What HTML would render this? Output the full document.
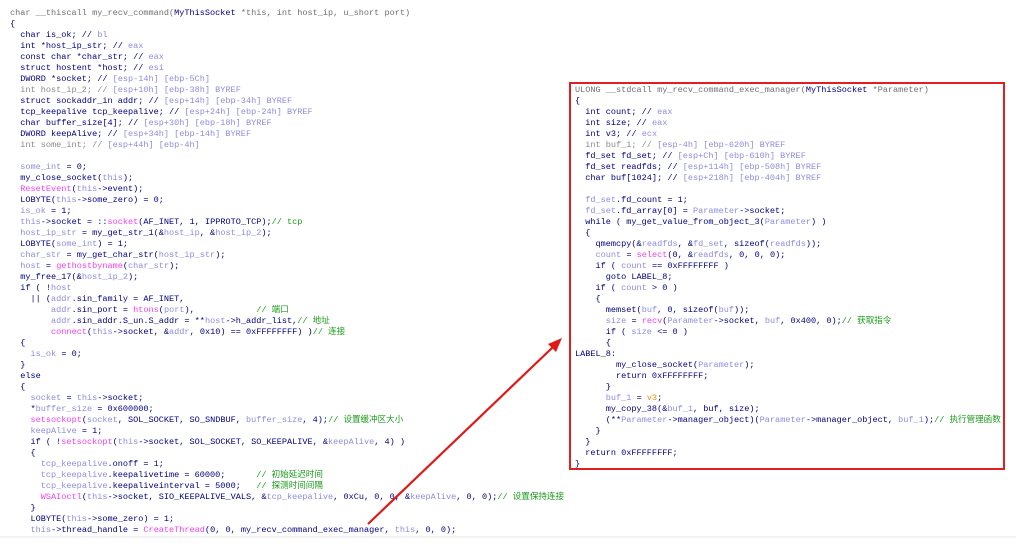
<!DOCTYPE html>
<html><head><meta charset="utf-8"><style>
html,body{margin:0;padding:0;background:#fff;width:1016px;height:545px;overflow:hidden;position:relative}
pre{position:absolute;margin:0;font-family:"Liberation Mono","Noto Sans CJK SC",monospace;font-size:8.55px;line-height:11px;color:#000080;white-space:pre}
.g{color:#8a8a8a}.v{color:#8c8ce0}.p{color:#f040f0}.c{color:#1a9a1a}.o{color:#e89000}.h{color:#707070}
#box{position:absolute;left:569px;top:82px;width:436px;height:388px;border:2px solid #e02020;box-sizing:border-box}
#shadow{position:absolute;left:0;top:536px;width:1016px;height:3px;background:linear-gradient(#eee,#fff)}
</style></head><body>
<div id="shadow"></div>
<pre style="left:10px;top:8px"><span class="h">char __thiscall my_recv_command(</span>MyThisSocket <span class="h">*this, int host_ip, u_short port)</span>
{
  char is_ok; // <span class="v">bl</span>
  int *host_ip_str; // <span class="v">eax</span>
  const char *char_str; // <span class="v">eax</span>
  struct hostent *host; // <span class="v">esi</span>
  DWORD *socket; // <span class="v">[esp-14h] [ebp-5Ch]</span>
<span class="g">  int host_ip_2; // </span><span class="v">[esp+10h] [ebp-38h] BYREF</span>
  struct sockaddr_in addr; // <span class="v">[esp+14h] [ebp-34h] BYREF</span>
  tcp_keepalive tcp_keepalive; // <span class="v">[esp+24h] [ebp-24h] BYREF</span>
  char buffer_size[4]; // <span class="v">[esp+30h] [ebp-18h] BYREF</span>
  DWORD keepAlive; // <span class="v">[esp+34h] [ebp-14h] BYREF</span>
<span class="g">  int some_int; // </span><span class="v">[esp+44h] [ebp-4h]</span>

  <span class="v">some_int</span> = 0;
  my_close_socket(<span class="v">this</span>);
  <span class="p">ResetEvent</span>(<span class="v">this</span>-&gt;event);
  LOBYTE(<span class="v">this</span>-&gt;some_zero) = 0;
  <span class="v">is_ok</span> = 1;
  <span class="v">this</span>-&gt;socket = ::<span class="p">socket</span>(AF_INET, 1, IPPROTO_TCP);<span class="c">// tcp</span>
  <span class="v">host_ip_str</span> = my_get_str_1(&amp;<span class="v">host_ip</span>, &amp;<span class="v">host_ip_2</span>);
  LOBYTE(<span class="v">some_int</span>) = 1;
  <span class="v">char_str</span> = my_get_char_str(<span class="v">host_ip_str</span>);
  <span class="v">host</span> = <span class="p">gethostbyname</span>(<span class="v">char_str</span>);
  my_free_17(&amp;<span class="v">host_ip_2</span>);
  if ( !<span class="v">host</span>
    || (<span class="v">addr</span>.sin_family = AF_INET,
        <span class="v">addr</span>.sin_port = <span class="p">htons</span>(<span class="v">port</span>),            <span class="c">// 端口</span>
        <span class="v">addr</span>.sin_addr.S_un.S_addr = **<span class="v">host</span>-&gt;h_addr_list,<span class="c">// 地址</span>
        <span class="p">connect</span>(<span class="v">this</span>-&gt;socket, &amp;<span class="v">addr</span>, 0x10) == 0xFFFFFFFF) )<span class="c">// 连接</span>
  {
    <span class="v">is_ok</span> = 0;
  }
  else
  {
    <span class="v">socket</span> = <span class="v">this</span>-&gt;socket;
    *<span class="v">buffer_size</span> = 0x600000;
    <span class="p">setsockopt</span>(<span class="v">socket</span>, SOL_SOCKET, SO_SNDBUF, <span class="v">buffer_size</span>, 4);<span class="c">// 设置缓冲区大小</span>
    <span class="v">keepAlive</span> = 1;
    if ( !<span class="p">setsockopt</span>(<span class="v">this</span>-&gt;socket, SOL_SOCKET, SO_KEEPALIVE, &amp;<span class="v">keepAlive</span>, 4) )
    {
      <span class="v">tcp_keepalive</span>.onoff = 1;
      <span class="v">tcp_keepalive</span>.keepalivetime = 60000;      <span class="c">// 初始延迟时间</span>
      <span class="v">tcp_keepalive</span>.keepaliveinterval = 5000;   <span class="c">// 探测时间间隔</span>
      <span class="p">WSAIoctl</span>(<span class="v">this</span>-&gt;socket, SIO_KEEPALIVE_VALS, &amp;<span class="v">tcp_keepalive</span>, 0xCu, 0, 0, &amp;<span class="v">keepAlive</span>, 0, 0);<span class="c">// 设置保持连接</span>
    }
    LOBYTE(<span class="v">this</span>-&gt;some_zero) = 1;
    <span class="v">this</span>-&gt;thread_handle = <span class="p">CreateThread</span>(0, 0, my_recv_command_exec_manager, <span class="v">this</span>, 0, 0);</pre>
<div id="box"></div>
<pre style="left:575px;top:85px"><span class="h">ULONG __stdcall my_recv_command_exec_manager(</span>MyThisSocket <span class="h">*Parameter)</span>
{
  int count; // <span class="v">eax</span>
  int size; // <span class="v">eax</span>
  int v3; // <span class="v">ecx</span>
<span class="g">  int buf_1; // </span><span class="v">[esp-4h] [ebp-620h] BYREF</span>
  fd_set fd_set; // <span class="v">[esp+Ch] [ebp-610h] BYREF</span>
  fd_set readfds; // <span class="v">[esp+114h] [ebp-508h] BYREF</span>
  char buf[1024]; // <span class="v">[esp+218h] [ebp-404h] BYREF</span>

  <span class="v">fd_set</span>.fd_count = 1;
  <span class="v">fd_set</span>.fd_array[0] = <span class="v">Parameter</span>-&gt;socket;
  while ( my_get_value_from_object_3(<span class="v">Parameter</span>) )
  {
    qmemcpy(&amp;<span class="v">readfds</span>, &amp;<span class="v">fd_set</span>, sizeof(<span class="v">readfds</span>));
    <span class="v">count</span> = <span class="p">select</span>(0, &amp;<span class="v">readfds</span>, 0, 0, 0);
    if ( <span class="v">count</span> == 0xFFFFFFFF )
      goto LABEL_8;
    if ( <span class="v">count</span> &gt; 0 )
    {
      memset(<span class="v">buf</span>, 0, sizeof(<span class="v">buf</span>));
      <span class="v">size</span> = <span class="p">recv</span>(<span class="v">Parameter</span>-&gt;socket, <span class="v">buf</span>, 0x400, 0);<span class="c">// 获取指令</span>
      if ( <span class="v">size</span> &lt;= 0 )
      {
LABEL_8:
        my_close_socket(<span class="v">Parameter</span>);
        return 0xFFFFFFFF;
      }
      <span class="v">buf_1</span> = <span class="o">v3</span>;
      my_copy_38(&amp;<span class="v">buf_1</span>, buf, size);
      (**<span class="v">Parameter</span>-&gt;manager_object)(<span class="v">Parameter</span>-&gt;manager_object, <span class="v">buf_1</span>);<span class="c">// 执行管理函数</span>
    }
  }
  return 0xFFFFFFFF;
}</pre>
<svg width="1016" height="545" style="position:absolute;left:0;top:0">
<line x1="368" y1="524" x2="553" y2="347" stroke="#e01818" stroke-width="2.2"/>
<polygon points="562,338 548,344 556,352" fill="#e01818"/>
</svg>
</body></html>
